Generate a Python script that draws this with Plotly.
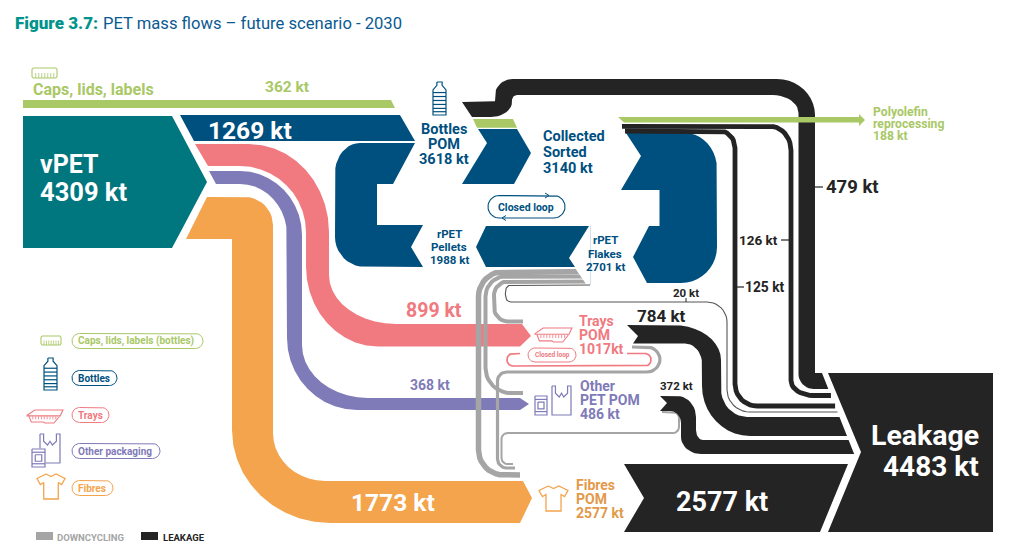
import plotly.graph_objects as go

# ---------- data ----------
stages = ["vPET", "Bottles POM", "Collected Sorted", "rPET Flakes", "rPET Pellets",
          "Trays POM", "Other PET POM", "Fibres POM", "Leakage"]
stage_kt = [4309, 3618, 3140, 2701, 1988, 1017, 486, 2577, 4483]
virgin_flows = ["Bottles", "Trays", "Other", "Fibres", "Caps"]
virgin_kt = [1269, 899, 368, 1773, 362]
leak_flows = ["Sorting", "Collected a", "Collected b", "Flakes", "Trays", "Other", "Fibres"]
leak_kt = [479, 126, 125, 20, 784, 372, 2577]
polyolefin_kt = 188
legend_items = ["Caps, lids, labels (bottles)", "Bottles", "Trays", "Other packaging", "Fibres"]

TEAL = "#00767f"; BLUE = "#00507f"; BLUE2 = "#004f78"; PINK = "#f07a80"; PURPLE = "#7f7ab8"
ORANGE = "#f3a44c"; ORANGE_T = "#e3994a"; GREEN = "#a9c866"; GREY = "#a5a5a5"; DARK = "#242424"
FONT = "Roboto"

fig = go.Figure()


def rounded(pts, n=10):
    """Polygon or polyline vertices; (x, y, r) or (x, y, r_in, r_out) round the corner."""
    xs, ys = [], []
    for i, p in enumerate(pts):
        if len(p) == 2:
            xs.append(p[0]); ys.append(p[1]); continue
        x, y = p[0], p[1]
        r1 = p[2]; r2 = p[3] if len(p) > 3 else p[2]
        a = pts[i - 1]; b = pts[(i + 1) % len(pts)]
        da = ((a[0] - x) ** 2 + (a[1] - y) ** 2) ** .5
        db = ((b[0] - x) ** 2 + (b[1] - y) ** 2) ** .5
        p0 = (x + (a[0] - x) * r1 / da, y + (a[1] - y) * r1 / da)
        p3 = (x + (b[0] - x) * r2 / db, y + (b[1] - y) * r2 / db)
        k = 0.55
        c1 = (p0[0] + (x - p0[0]) * k, p0[1] + (y - p0[1]) * k)
        c2 = (p3[0] + (x - p3[0]) * k, p3[1] + (y - p3[1]) * k)
        for j in range(n + 1):
            t = j / n; u = 1 - t
            xs.append(u**3*p0[0] + 3*u*u*t*c1[0] + 3*u*t*t*c2[0] + t**3*p3[0])
            ys.append(u**3*p0[1] + 3*u*u*t*c1[1] + 3*u*t*t*c2[1] + t**3*p3[1])
    return xs, ys


def fill(pts, color):
    xs, ys = rounded(pts)
    fig.add_trace(go.Scatter(x=xs + xs[:1], y=ys + ys[:1], mode="lines", fill="toself", fillcolor=color,
                             line=dict(width=0, color=color), hoverinfo="skip", showlegend=False))


def stroke(pts, color, width, closed=False):
    xs, ys = rounded(pts)
    if closed:
        xs, ys = xs + xs[:1], ys + ys[:1]
    fig.add_trace(go.Scatter(x=xs, y=ys, mode="lines", line=dict(width=width, color=color),
                             hoverinfo="skip", showlegend=False))


annotations = []


def text(x, y, s, size, color, anchor="left", weight=700):
    annotations.append(dict(x=x, y=y, xref="x", yref="y", text=s, showarrow=False, xanchor=anchor,
                            yanchor="middle", align=anchor, borderpad=0, borderwidth=0,
                            font=dict(family=FONT, size=size, color=color, weight=weight)))


def box(x0, y0, x1, y1):
    return lambda u, v: (x0 + (x1 - x0) * u, y0 + (y1 - y0) * v)


def icon_bottle(x0, y0, x1, y1, c, w=1.2):
    m = box(x0, y0, x1, y1)
    outline = [(.3, 0), (.7, 0), (.7, .1), (1, .24), (1, 1), (0, 1), (0, .24), (.3, .1)]
    stroke([m(*p) for p in outline], c, w, closed=True)
    for v in (.32, .44, .56, .68, .8, .9):
        stroke([m(0, v), m(1, v)], c, w)


def icon_tray(x0, y0, x1, y1, c, w=1.1):
    m = box(x0, y0, x1, y1)
    stroke([m(.0, .4), m(.22, 0), m(1, 0), m(.92, .45), m(0, .45)], c, w, closed=True)
    stroke([m(.05, .45), m(.12, .92), m(.45, .92), m(.5, 1), m(.75, 1), m(.9, .5)], c, w)
    for u in (.16, .24, .32, .4, .48, .56, .64, .72, .8):
        stroke([m(u, .5), m(u, .72)], c, .8)


def icon_bag(x0, y0, x1, y1, c, w=1.2):
    m = box(x0, y0, x1, y1)
    stroke([m(0, 0), m(0, 1), m(1, 1), m(1, 0), m(.82, 0), m(.82, .25), m(.62, .38), m(.5, .25),
            m(.38, .38), m(.18, .25), m(.18, 0)], c, w, closed=True)


def icon_can(x0, y0, x1, y1, c, w=1.2):
    m = box(x0, y0, x1, y1)
    fill([m(-.05, -.03), m(1.05, -.03), m(1.05, 1.03), m(-.05, 1.03)], "#ffffff")
    stroke([m(0, 0), m(1, 0), m(1, 1), m(0, 1)], c, w, closed=True)
    stroke([m(0, .18), m(1, .18)], c, w)
    stroke([m(0, .82), m(1, .82)], c, w)
    stroke([m(.25, .32), m(.75, .32), m(.75, .68), m(.25, .68)], c, w, closed=True)


def icon_shirt(x0, y0, x1, y1, c, w=1.3):
    m = box(x0, y0, x1, y1)
    stroke([m(.32, 0), m(.5, .1), m(.68, 0), m(1, .18), m(.88, .42), m(.76, .34), m(.76, 1), m(.24, 1),
            m(.24, .34), m(.12, .42), m(0, .18)], c, w, closed=True)


def icon_ruler(x0, y0, x1, y1, c, w=1.1):
    m = box(x0, y0, x1, y1)
    stroke([m(.05, 0), m(.95, 0), m(1, .15), m(1, .85), m(.95, 1), m(.05, 1), m(0, .85), m(0, .15)], c, w, closed=True)
    for u in (.15, .27, .39, .51, .63, .75, .87):
        stroke([m(u, .5), m(u, 1)], c, .8)


def pill(x0, x1, y0, y1, c, w=1.2):
    r = (y1 - y0) / 2
    stroke([(x0 + r, y0), (x1, y0, r), (x1, y1, r), (x0, y1, r), (x0, y0, r)], c, w, closed=True)


def kt(v):
    return f"{v} kt"


def end_x(y):
    return 822 + (y - 373) * 0.397


# ---------- bands from vPET ----------
fill([(23, 116), (172, 116), (207, 182), (172, 248), (23, 248)], TEAL)
fill([(23, 100), (391, 100), (395, 108), (23, 108)], GREEN)
fill([(180, 115), (400, 115), (415, 141), (194, 141)], BLUE)
fill([(195, 144), (329, 144, 80, 88), (329, 324, 49, 67), (522, 324), (531, 336), (520, 346.5),
      (306, 346.5, 72, 80), (306, 166, 66, 66), (208, 166)], PINK)
fill([(209, 171), (302, 171, 62, 64), (302, 398, 53, 66), (520, 398), (529, 404), (520, 410),
      (287, 410, 70, 72), (287, 184, 51, 47), (216, 184)], PURPLE)
fill([(207, 197), (273, 197, 28, 28), (273, 481, 48, 52), (523, 481), (532, 498), (520, 523),
      (232, 523, 98, 93), (232, 239), (186, 239)], ORANGE)

# ---------- downcycling ----------
stroke([(590, 271.5), (478.5, 271.5, 25), (478.5, 475, 25), (520, 475)], GREY, 5.5)
stroke([(590, 276.4), (485.5, 276.4, 20), (485.5, 393, 25), (523, 393)], GREY, 4)
stroke([(590, 281.4), (494, 281.4, 14), (494, 321.5, 14), (523, 321.5)], GREY, 4)
fill([(575, 268), (600, 268), (600, 284), (586, 284)], "#ffffff")
stroke([(632, 347), (660, 347, 13), (660, 372, 13), (497.5, 372, 9), (497.5, 468, 9), (515, 468)], GREY, 3.2)
stroke([(662, 412), (679, 412, 6), (679, 433, 6), (501.5, 433, 6), (501.5, 464, 6), (513, 464)], GREY, 2)

# ---------- blue loop ----------
fill([(415, 143), (393, 184), (377, 184), (377, 225), (423, 225), (411, 247), (423, 267),
      (335, 267, 30, 30), (335, 143, 30, 25)], BLUE)
fill([(478, 129), (517, 129), (531, 153), (514, 184), (462, 184), (487, 143)], BLUE)
fill([(473, 119), (513, 119), (517, 127.7), (477, 127.7)], GREEN)
fill([(486, 226), (589, 226), (569, 258), (575, 267), (486, 267), (476, 247)], BLUE2)
fill([(626, 133), (641, 156), (621, 190), (659.5, 190), (659.5, 226), (649, 226), (633, 257), (647, 283),
      (717, 283, 36, 36), (717, 133, 36, 32)], BLUE)
stroke([(590.6, 226), (590.6, 285)], "#bcd3e0", 0.7)
pill(488, 565, 195.5, 218, BLUE, 1.1)
stroke([(545, 193), (549, 195.5), (545, 198)], BLUE, 1)
stroke([(506, 215.5), (502, 218), (506, 220.5)], BLUE, 1)

# ---------- leakage ----------
fill([(828, 373), (993, 373), (993, 532), (828, 532), (861, 452)], DARK)
fill([(624, 464), (848, 464), (820, 532), (624, 532), (644, 498)], DARK)
fill([(462, 102), (495, 102, 1), (495, 79, 16, 18), (815, 79, 38, 36), (815, 373), (end_x(373), 373),
      (end_x(389), 389), (798.5, 389, 15, 15), (798.5, 95, 18, 26), (512, 95, 5, 5),
      (512, 117, 15, 21), (472, 117)], DARK)
stroke([(622, 126.3), (791, 126.3, 21, 24), (791, 395.5, 15, 22), (end_x(395.5), 395.5)], DARK, 4.8)
stroke([(625, 131), (735, 131, 15, 17), (735, 406, 22, 22), (end_x(406), 406)], DARK, 4.8)
stroke([(590, 285), (508, 285, 3), (503, 293.5, 8), (508, 302, 3), (727, 302, 20, 20), (727, 412, 22, 23),
        (end_x(412), 412)], "#555555", 1.1)
fill([(627, 325), (721, 325, 48, 35), (721, 417, 28, 26), (end_x(417), 417), (end_x(436), 436),
      (702, 436, 48, 50), (702, 343.5, 20, 17), (633, 343.5), (638, 336)], DARK)
fill([(660, 396), (696, 396, 19, 21), (696, 440, 10, 7), (end_x(440), 440), (end_x(454), 454),
      (681, 454, 20, 17), (681, 411, 12, 11), (660, 411), (667, 403)], DARK)
fill([(618, 117), (859, 117), (859, 114), (865, 120), (859, 126), (859, 122.5), (624, 122.5)], GREEN)

# ticks
stroke([(815, 187), (823, 187)], DARK, 1.2)
stroke([(781, 240), (789, 240)], DARK, 1.2)
stroke([(737, 287), (744, 287)], DARK, 1.2)
stroke([(686, 298), (686, 302)], DARK, 1)

# trays closed loop
stroke([(520, 353.5), (507, 353.5, 6), (507, 366, 6), (651, 366, 6), (651, 353.5, 6), (627, 353.5)], PINK, 1.7)
pill(528, 576, 348, 362, PINK, 1)

# ---------- icons ----------
icon_ruler(32, 68, 57, 78, GREEN)
icon_bottle(433, 82, 446, 115, BLUE)
icon_tray(535, 328, 572, 342, PINK)
icon_bag(552, 386, 571, 415, PURPLE)
icon_can(535, 396, 547, 415, PURPLE)
icon_shirt(539, 486, 568, 511, ORANGE)
icon_ruler(41, 336, 61, 345, GREEN)
icon_bottle(44, 358, 57, 390, BLUE)
icon_tray(27, 410, 63, 423, PINK)
icon_bag(40, 434, 60, 463, PURPLE)
icon_can(32, 449, 45, 467, PURPLE)
icon_shirt(37, 474, 65, 499, ORANGE)

# ---------- legend ----------
legend_y = [341, 378, 415, 451, 488]
legend_x1 = [203, 117, 109, 160, 113]
legend_c = [GREEN, BLUE, PINK, PURPLE, ORANGE]
for name, y, x1, c in zip(legend_items, legend_y, legend_x1, legend_c):
    pill(72, x1, y - 7.5, y + 7.5, c, 1)
    text(78, y, name, 10, c)
fill([(36, 532), (53, 532), (53, 540), (36, 540)], GREY)
fill([(141, 532), (158, 532), (158, 540), (141, 540)], DARK)
text(57, 537.5, "DOWNCYCLING", 9.5, GREY)
text(163, 537.5, "LEAKAGE", 9.5, DARK)

# ---------- texts ----------
text(15, 23, "Figure 3.7:", 17, "#00948c", weight=900)
text(103, 23, "PET mass flows – future scenario - 2030", 16.6, "#0a5a92", weight=400)
text(33, 89, "Caps, lids, labels", 16, GREEN)
text(265, 87, kt(virgin_kt[4]), 15.5, GREEN)
text(40, 164, stages[0], 25, "#ffffff")
text(40, 192, kt(stage_kt[0]), 25.5, "#ffffff")
text(208, 130, kt(virgin_kt[0]), 24.5, "#ffffff")
text(406, 310, kt(virgin_kt[1]), 19.5, PINK)
text(410, 385, kt(virgin_kt[2]), 14, PURPLE)
text(351, 502, kt(virgin_kt[3]), 24.5, "#ffffff")

for i, s in enumerate(["Bottles", "POM", kt(stage_kt[1])]):
    text(443.5, [129, 144, 159][i], s, 14.5, BLUE, "center")
for i, s in enumerate(["Collected", "Sorted", kt(stage_kt[2])]):
    text(543, [136, 152, 168][i], s, 14.5, BLUE)
for i, s in enumerate(["rPET", "Pellets", kt(stage_kt[4])]):
    text(449, [234, 247, 260][i], s, 11.5, BLUE, "center")
for i, s in enumerate(["rPET", "Flakes", kt(stage_kt[3])]):
    text(605, [240, 254, 267][i], s, 11.5, BLUE, "center")
text(526, 207, "Closed loop", 10.5, BLUE, "center")
text(552, 355, "Closed loop", 6.5, PINK, "center")

for i, s in enumerate(["Trays", "POM", "1017kt"]):
    text(579, [320.5, 334.5, 348.5][i], s, 14, PINK)
for i, s in enumerate(["Other", "PET POM", kt(stage_kt[6])]):
    text(580, [385.5, 399.5, 413.5][i], s, 14, PURPLE)
for i, s in enumerate(["Fibres", "POM", kt(stage_kt[7])]):
    text(576, [484.5, 498.5, 512.5][i], s, 14, ORANGE_T)
for i, s in enumerate(["Polyolefin", "reprocessing", kt(polyolefin_kt)]):
    text(873, [112, 124, 136][i], s, 12.2, GREEN)

text(826, 187, kt(leak_kt[0]), 18.5, DARK)
text(739, 240, kt(leak_kt[1]), 13.5, DARK)
text(745, 287, kt(leak_kt[2]), 13.8, DARK)
text(686, 293, kt(leak_kt[3]), 11.5, DARK, "center")
text(637, 316, kt(leak_kt[4]), 17, DARK)
text(660, 386, kt(leak_kt[5]), 11.5, DARK)
text(676, 502, kt(leak_kt[6]), 27, "#ffffff")
text(979, 435, stages[8], 28.5, "#ffffff", "right")
text(979, 466, kt(stage_kt[8]), 28, "#ffffff", "right")

fig.update_layout(
    width=1009, height=557, margin=dict(l=0, r=0, t=0, b=0), autosize=False,
    paper_bgcolor="#ffffff", plot_bgcolor="#ffffff", showlegend=False, annotations=annotations,
    xaxis=dict(range=[0, 1009], visible=False, fixedrange=True),
    yaxis=dict(range=[557, 0], visible=False, fixedrange=True),
)
fig.write_html("out.html", config={"displayModeBar": False},
               post_script="document.body.style.margin='0';document.documentElement.style.overflow='hidden';")
